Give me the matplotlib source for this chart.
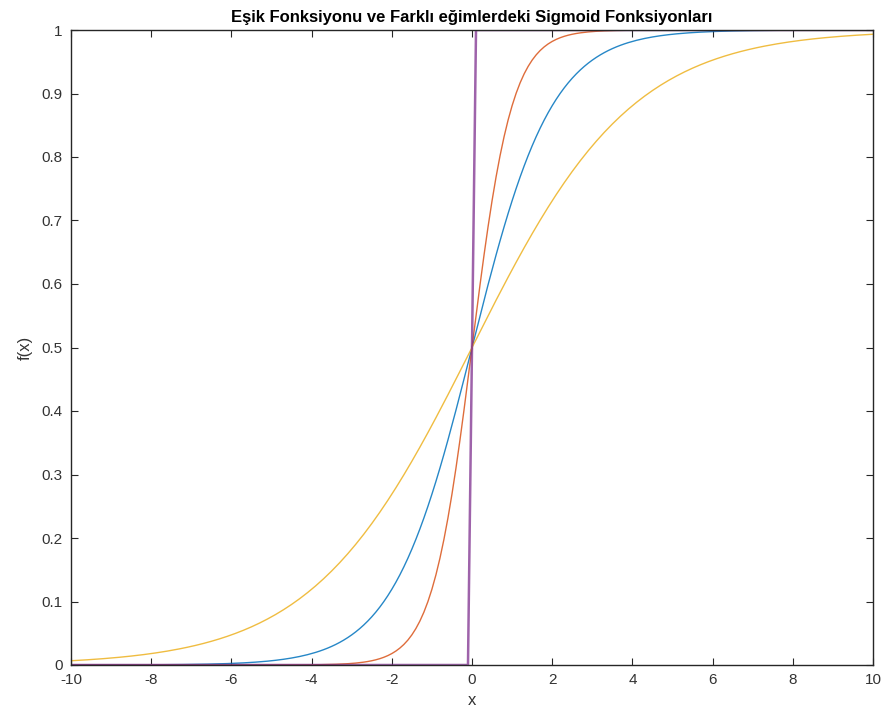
import numpy as np
import matplotlib.pyplot as plt

plt.rcParams['font.family'] = ['Liberation Sans', 'DejaVu Sans']
plt.rcParams['axes.unicode_minus'] = False

# egim (slope) of each sigmoid, in plotting order
slopes = [1, 2, 0.5]
colors = ['#0072BD', '#D95319', '#EDB120']
# esik (step) function samples
step_x = [-10, -0.1, 0, 0.1, 10]
step_y = [0, 0, 0.5, 1, 1]

x = np.arange(-10, 10.001, 0.1)

fig = plt.figure(figsize=(8.85, 7.19), dpi=100)
ax = fig.add_axes([71/885, 54/719, 802/885, 635/719])

for a, c in zip(slopes, colors):
    ax.plot(x, 1 / (1 + np.exp(-a * x)), color=c, lw=1.0, alpha=0.85)
ax.plot(step_x, step_y, color='#7E2F8E', lw=1.8, alpha=0.75)

ax.set_xlim(-10, 10)
ax.set_ylim(0, 1)
ax.set_xticks(np.arange(-10, 11, 2))
ax.set_yticks(np.arange(0, 1.01, 0.1))
ax.set_yticklabels(['0', '0.1', '0.2', '0.3', '0.4', '0.5', '0.6', '0.7', '0.8', '0.9', '1'])
ax.tick_params(direction='in', top=True, right=True, length=5, labelsize=11,
               colors='#262626', labelcolor='#333333', pad=6)
for s in ax.spines.values():
    s.set_color('#262626')
    s.set_linewidth(1)

ax.set_xlabel('x', fontsize=12, color='#333333', labelpad=4)
ax.set_ylabel('f(x)', fontsize=12, color='#333333', labelpad=6)
ax.set_title('Eşik Fonksiyonu ve Farklı eğimlerdeki Sigmoid Fonksiyonları',
             fontsize=12, fontweight='bold', pad=6)

fig.savefig('out.png', dpi=100)
